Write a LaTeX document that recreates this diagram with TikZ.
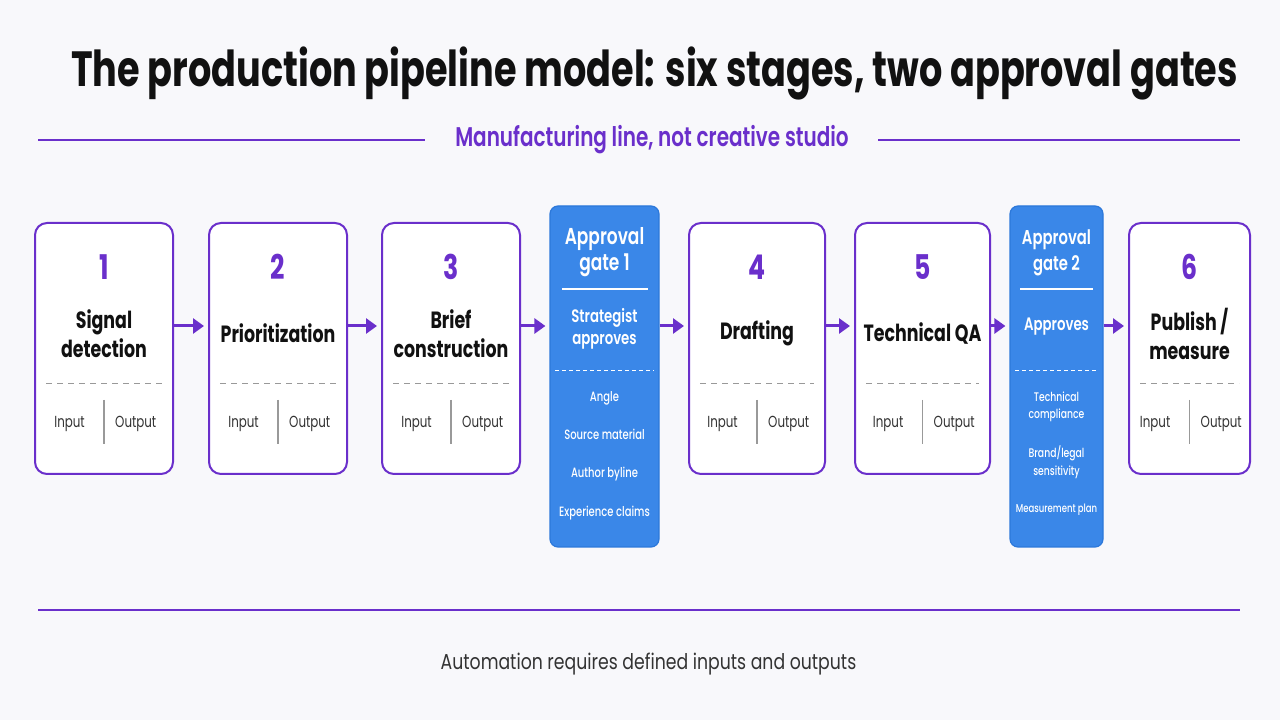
\documentclass[tikz,border=0pt]{standalone}
\usepackage{fontspec}
\setmainfont{Poppins}[FakeStretch=0.74]
\newfontfamily\medfont{Poppins Medium}[FakeStretch=0.74]
\newfontfamily\semifont{Poppins SemiBold}[FakeStretch=0.74]
\newfontfamily\footfont{Poppins}[FakeStretch=0.8]
\usepackage{tikz}
\usetikzlibrary{positioning, arrows.meta}
\usepackage{xcolor}
\definecolor{pipepurple}{HTML}{6A2FCB}
\definecolor{gateblue}{HTML}{3A87E8}
\definecolor{gateedge}{HTML}{2C78DA}
\definecolor{pagebg}{HTML}{F8F8FB}
\definecolor{inktext}{HTML}{111111}
\definecolor{iotext}{HTML}{333333}
\definecolor{sepgray}{HTML}{999999}

\begin{document}
\begin{tikzpicture}[
        x=1pt, y=1pt,
        stagebox/.style={rectangle, draw=pipepurple, line width=2pt, fill=white,
                         rounded corners=12pt, inner sep=0pt, minimum height=251pt},
        gatebox/.style={rectangle, draw=gateedge, line width=1.2pt, fill=gateblue,
                        rounded corners=8pt, inner sep=0pt, minimum height=341pt},
        flow/.style={-{Triangle[length=11pt, width=15pt]}, line width=3pt,
                     draw=pipepurple, shorten >=4pt},
        stagenum/.style={font=\bfseries\fontsize{34}{36}\selectfont, text=pipepurple,
                         inner sep=0pt, anchor=base},
        stagettl/.style={font=\bfseries\fontsize{23.5}{29}\selectfont, text=inktext,
                         align=center, inner sep=0pt},
        iolbl/.style={font=\fontsize{16}{18}\selectfont, text=iotext, inner sep=0pt},
        dashsep/.style={draw=sepgray, line width=1pt, dash pattern=on 6pt off 5pt},
        iosep/.style={draw=sepgray, line width=1.2pt},
        gatehead/.style={font=\semifont\fontsize{23}{26}\selectfont, text=white,
                         inner sep=0pt, anchor=base},
        gatesub/.style={font=\semifont\fontsize{18}{22}\selectfont, text=white,
                        inner sep=0pt, anchor=base},
        gateitem/.style={font=\medfont\fontsize{13.5}{17}\selectfont, text=white,
                         inner sep=0pt, anchor=base},
        rule/.style={draw=pipepurple, line width=1.3pt}
    ]

    %% page
    \fill[pagebg] (0,0) rectangle (1280,720);
    \useasboundingbox (0,0) rectangle (1280,720);

    %% HEADER
    \node[font=\bfseries\fontsize{49.5}{54}\selectfont, text=inktext, inner sep=0pt,
          anchor=base] (title) at (654.5,633)
          {The production pipeline model: six stages, two approval gates};
    \node[font=\semifont\fontsize{27}{30}\selectfont, text=pipepurple, inner sep=0pt,
          anchor=base] (subtitle) at (652,573) {Manufacturing line, not creative studio};
    \draw[rule] (38,580) -- (425,580);
    \draw[rule] (878,580) -- (1240,580);

    %% STAGES
    \foreach \nm/\cx/\w/\num/\ttl in {s1/104/138/1/{Signal\\detection},
                                      s2/278/138/2/{Prioritization},
                                      s3/451/138/3/{Brief\\construction},
                                      s4/757/136/4/{Drafting},
                                      s5/922.5/135/5/{Technical QA},
                                      s6/1189.5/121/6/{Publish /\\measure}} {
        \node[stagebox, minimum width=\w pt] (\nm) at (\cx,371.5) {};
        \node[stagenum] at ([yshift=68.5pt]\nm.center) {\num};
        \node[stagettl] at ([yshift=15pt]\nm.center) {\ttl};
        \draw[dashsep] ([shift={(12pt,-35.5pt)}]\nm.west)
                    -- ([shift={(-12pt,-35.5pt)}]\nm.east);
        \draw[iosep] ([yshift=-51.5pt]\nm.center) -- ([yshift=-95.5pt]\nm.center);
        \node[iolbl, anchor=base east] at ([shift={(-19pt,-79.5pt)}]\nm.center) {Input};
        \node[iolbl, anchor=base west] at ([shift={(11pt,-79.5pt)}]\nm.center) {Output};
    }

    %% APPROVAL GATE 1
    \node[gatebox, minimum width=109pt] (g1) at (604.5,343.5) {};
    \node[gatehead] at (604.5,475) {Approval};
    \node[gatehead] at (604.5,449) {gate 1};
    \draw[white, line width=1.5pt] (562,431) -- (648,431);
    \node[gatesub] at (604.5,397) {Strategist};
    \node[gatesub] at (604.5,375) {approves};
    \draw[white, line width=1pt, dash pattern=on 4pt off 3pt] (555,349) -- (654,349);
    \node[gateitem] at (604.5,318) {Angle};
    \node[gateitem] at (604.5,280) {Source material};
    \node[gateitem] at (604.5,242) {Author byline};
    \node[gateitem] at (604.5,203) {Experience claims};

    %% APPROVAL GATE 2
    \node[gatebox, minimum width=93pt] (g2) at (1056.5,343.5) {};
    \node[gatehead, font=\semifont\fontsize{20}{24}\selectfont] at (1056.5,475) {Approval};
    \node[gatehead, font=\semifont\fontsize{20}{24}\selectfont] at (1056.5,449) {gate 2};
    \draw[white, line width=1.5pt] (1020,431) -- (1093,431);
    \node[gatesub] at (1056.5,389) {Approves};
    \draw[white, line width=1pt, dash pattern=on 4pt off 3pt] (1015,349) -- (1098,349);
    \node[gateitem, font=\medfont\fontsize{12.5}{15}\selectfont] at (1056.5,318) {Technical};
    \node[gateitem, font=\medfont\fontsize{12.5}{15}\selectfont] at (1056.5,301) {compliance};
    \node[gateitem, font=\medfont\fontsize{12.5}{15}\selectfont] at (1056.5,262) {Brand/legal};
    \node[gateitem, font=\medfont\fontsize{12.5}{15}\selectfont] at (1056.5,244) {sensitivity};
    \node[gateitem, font=\medfont\fontsize{11.5}{14}\selectfont] at (1056.5,207) {Measurement plan};

    %% FLOW
    \coordinate (flowy) at (0,394);
    \draw[flow] (s1.east |- flowy) -- (s2.west |- flowy);
    \draw[flow] (s2.east |- flowy) -- (s3.west |- flowy);
    \draw[flow] (s3.east |- flowy) -- (g1.west |- flowy);
    \draw[flow] (g1.east |- flowy) -- (s4.west |- flowy);
    \draw[flow] (s4.east |- flowy) -- (s5.west |- flowy);
    \draw[flow] (s5.east |- flowy) -- (g2.west |- flowy);
    \draw[flow] (g2.east |- flowy) -- (s6.west |- flowy);

    %% FOOTER
    \draw[rule] (38,110) -- (1240,110);
    \node[font=\footfont\fontsize{21.6}{25}\selectfont, text=iotext, inner sep=0pt,
          anchor=base] (footnote) at (648.5,50) {Automation requires defined inputs and outputs};

    \end{tikzpicture}
\end{document}
